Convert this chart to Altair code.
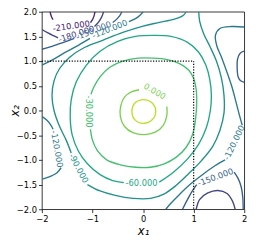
import altair as alt
import pandas as pd

LEVELS = [-210, -180, -150, -120, -90, -60, -30, 0, 30]
COLORS = ["#482475", "#414487", "#355f8d", "#2a788e", "#21918c",
          "#22a884", "#44bf70", "#7ad151", "#bddf26"]

XTICKS = [-2, -1, 0, 1, 2]
YTICKS = [-2.0, -1.5, -1.0, -0.5, 0.0, 0.5, 1.0, 1.5, 2.0]

# contour level 30 (closed ring)
C30_X = [0.25, 0.18, 0.01, -0.16, -0.22, -0.16, 0.01, 0.18]
C30_Y = [-0.02, 0.15, 0.22, 0.15, -0.02, -0.19, -0.26, -0.19]

# contour level 0
C0_X = [0.47, 0.47, 0.40, 0.24, 0.02, -0.20, -0.37, -0.45, -0.44, -0.36, -0.22, -0.08]
C0_Y = [0.08, -0.10, -0.30, -0.44, -0.49, -0.45, -0.32, -0.12, 0.10, 0.28, 0.38, 0.42]

# contour level -30
CM30_X = [-1.04, -1.0, -0.9, -0.72, -0.45, -0.15, 0.15, 0.42, 0.65, 0.85, 0.98, 1.04, 1.06,
          1.05, 1.0, 0.9, 0.72, 0.48, 0.2, -0.1, -0.4, -0.65, -0.85, -0.97, -1.03]
CM30_Y = [-0.38, -0.6, -0.82, -1.0, -1.1, -1.15, -1.15, -1.08, -0.95, -0.75, -0.48, -0.15, 0.15,
          0.42, 0.65, 0.82, 0.95, 1.03, 1.06, 1.06, 1.0, 0.88, 0.68, 0.48, 0.33]

# contour level -60
CM60_X = [0.32, 0.6, 0.88, 1.1, 1.25, 1.33, 1.35, 1.32, 1.24, 1.1, 0.88, 0.55, 0.2, -0.15, -0.5,
          -0.85, -1.12, -1.32, -1.42, -1.44, -1.4, -1.28, -1.1, -0.85, -0.6, -0.38]
CM60_Y = [-1.45, -1.25, -0.98, -0.68, -0.35, 0.0, 0.3, 0.62, 0.92, 1.18, 1.38, 1.5, 1.52, 1.5, 1.4,
          1.2, 0.92, 0.58, 0.22, -0.15, -0.5, -0.82, -1.08, -1.3, -1.42, -1.46]

# contour level -90
CM90A_X = [0.85, 0.8, 0.62, 0.3, 0.0, -0.4, -0.8, -1.15, -1.45, -1.65, -1.76, -1.8, -1.76, -1.66, -1.52, -1.42]
CM90A_Y = [2.0, 1.93, 1.85, 1.78, 1.71, 1.58, 1.42, 1.28, 1.08, 0.85, 0.6, 0.3, 0.0, -0.3, -0.6, -0.86]
CM90B_X = [-1.1, -0.85, -0.55, -0.2, 0.15, 0.4, 0.65, 0.9, 1.15, 1.38, 1.52, 1.6, 1.6, 1.55,
           1.45, 1.32, 1.2, 1.12, 1.1]
CM90B_Y = [-1.5, -1.63, -1.72, -1.78, -1.78, -1.7, -1.52, -1.28, -1.02, -0.72, -0.4, -0.05, 0.3, 0.65,
           1.0, 1.3, 1.55, 1.8, 2.0]

# contour level -120
CM120A_X = [-2.0, -1.8, -1.55, -1.28, -1.05]
CM120A_Y = [0.92, 1.02, 1.17, 1.32, 1.46]
CM120B_X = [-0.28, -0.15, -0.06, 0.0]
CM120B_Y = [1.8, 1.86, 1.93, 2.0]
CM120C_X = [2.0, 1.75, 1.52, 1.43, 1.46, 1.55, 1.65, 1.75, 1.83, 1.9, 1.96]
CM120C_Y = [1.69, 1.7, 1.66, 1.52, 1.3, 1.08, 0.8, 0.5, 0.2, -0.08, -0.3]
CM120D_X = [1.62, 1.42, 1.2, 0.95, 0.72, 0.55, 0.45]
CM120D_Y = [-1.0, -1.12, -1.28, -1.48, -1.7, -1.88, -2.0]
CM120E_X = [-2.0, -1.9, -1.82, -1.78]
CM120E_Y = [-0.12, -0.2, -0.3, -0.38]
CM120F_X = [-1.62, -1.7, -1.8, -1.9, -2.0]
CM120F_Y = [-1.16, -1.26, -1.32, -1.36, -1.39]

# contour level -150
CM150A_X = [-2.0, -1.8, -1.6, -1.36]
CM150A_Y = [1.24, 1.3, 1.37, 1.46]
CM150B_X = [-0.6, -0.52, -0.46, -0.42]
CM150B_Y = [1.78, 1.85, 1.92, 2.0]
CM150C_X = [0.78, 0.88, 0.98, 1.06]
CM150C_Y = [-2.0, -1.8, -1.62, -1.5]
CM150D_X = [1.8, 1.88, 1.94, 1.97, 1.98]
CM150D_Y = [-1.25, -1.38, -1.55, -1.75, -2.0]
CM150E_X = [2.0, 1.92, 1.87, 1.86, 1.88, 1.93, 2.0]
CM150E_Y = [1.2, 1.16, 1.05, 0.85, 0.68, 0.6, 0.57]

# contour level -180
CM180A_X = [-2.0, -1.88, -1.76, -1.68]
CM180A_Y = [1.64, 1.57, 1.51, 1.47]
CM180B_X = [-0.96, -0.88, -0.82, -0.78]
CM180B_Y = [1.7, 1.79, 1.89, 2.0]
CM180C_X = [1.05, 1.12, 1.28, 1.48, 1.66, 1.77, 1.82]
CM180C_Y = [-2.0, -1.8, -1.67, -1.62, -1.68, -1.84, -2.0]

# contour level -210
CM210A_X = [-1.84, -1.81, -1.78]
CM210A_Y = [2.0, 1.9, 1.84]
CM210B_X = [-1.04, -1.0, -0.97, -0.95]
CM210B_Y = [1.78, 1.84, 1.91, 2.0]

# inline contour labels
LABEL_TEXT = ["-210.000", "-180.000", "-150.000", "-120.000", "-120.000", "-120.000",
              "-90.000", "-60.000", "-30.000", "0.000", "-150.000"]
LABEL_LEVEL = [-210, -180, -150, -120, -120, -120, -90, -60, -30, 0, -150]
LABEL_X = [-1.42, -1.32, -0.98, -0.66, 1.80, -1.70, -1.27, -0.03, -1.07, 0.23, 1.43]
LABEL_Y = [1.71, 1.55, 1.62, 1.65, -0.65, -0.78, -1.17, -1.47, -0.02, 0.39, -1.35]
LABEL_ANGLE = [352, 342, 338, 338, 296, 80, 62, 0, 90, 30, 340]

# dotted guide to (1, 1)
DOT_X = [-2, 1, 1]
DOT_Y = [1, 1, -2]

SEGMENTS = [
    (0, C0_X, C0_Y), (-30, CM30_X, CM30_Y), (-60, CM60_X, CM60_Y),
    (-90, CM90A_X, CM90A_Y), (-90, CM90B_X, CM90B_Y),
    (-120, CM120A_X, CM120A_Y), (-120, CM120B_X, CM120B_Y), (-120, CM120C_X, CM120C_Y),
    (-120, CM120D_X, CM120D_Y), (-120, CM120E_X, CM120E_Y), (-120, CM120F_X, CM120F_Y),
    (-150, CM150A_X, CM150A_Y), (-150, CM150B_X, CM150B_Y), (-150, CM150C_X, CM150C_Y),
    (-150, CM150D_X, CM150D_Y), (-150, CM150E_X, CM150E_Y),
    (-180, CM180A_X, CM180A_Y), (-180, CM180B_X, CM180B_Y), (-180, CM180C_X, CM180C_Y),
    (-210, CM210A_X, CM210A_Y), (-210, CM210B_X, CM210B_Y),
]

rows = []
for sid, (lev, xs_, ys_) in enumerate(SEGMENTS):
    for i, (xv, yv) in enumerate(zip(xs_, ys_)):
        rows.append({"seg": sid, "level": str(lev), "i": i, "x": xv, "y": yv})
lines_df = pd.DataFrame(rows)

ring_df = pd.DataFrame({"x": C30_X, "y": C30_Y, "i": list(range(len(C30_X))),
                        "level": ["30"] * len(C30_X)})
dot_df = pd.DataFrame({"x": DOT_X, "y": DOT_Y, "i": [0, 1, 2]})
lab_df = pd.DataFrame({"text": LABEL_TEXT, "level": [str(v) for v in LABEL_LEVEL],
                       "x": LABEL_X, "y": LABEL_Y, "angle": LABEL_ANGLE})

FONT = "DejaVu Sans"
FS = 8.6
xscale = alt.Scale(domain=[-2, 2], nice=False, zero=False)
yscale = alt.Scale(domain=[-2, 2], nice=False, zero=False)
xaxis = alt.Axis(values=XTICKS, format="d", title="x₁", grid=False, domain=False,
                 tickSize=3.5, tickWidth=0.8, tickColor="black",
                 labelFont=FONT, labelFontSize=FS, labelColor="black", labelPadding=2,
                 labelFlush=False, titleFont=FONT, titleFontSize=12, titleFontStyle="italic",
                 titleFontWeight="normal", titleColor="black",
                 titleX=104.5, titleY=22, titleAlign="center", titleBaseline="middle")
yaxis = alt.Axis(values=YTICKS, format=".1f", title="x₂", grid=False, domain=False,
                 tickSize=3.5, tickWidth=0.8, tickColor="black",
                 labelFont=FONT, labelFontSize=FS, labelColor="black", labelPadding=2,
                 labelFlush=False, titleFont=FONT, titleFontSize=12, titleFontStyle="italic",
                 titleFontWeight="normal", titleColor="black",
                 titleAngle=270, titleX=-28, titleY=102, titleAlign="center", titleBaseline="middle")

X = alt.X("x:Q", scale=xscale, axis=xaxis)
Y = alt.Y("y:Q", scale=yscale, axis=yaxis)
colscale = alt.Scale(domain=[str(v) for v in LEVELS], range=COLORS)

LW = 1.4
lines = alt.Chart(lines_df).mark_line(interpolate="catmull-rom", strokeWidth=LW, clip=True).encode(
    x=X, y=Y, color=alt.Color("level:N", scale=colscale, legend=None),
    detail="seg:N", order=alt.Order("i:Q"))

ring = alt.Chart(ring_df).mark_line(interpolate="cardinal-closed", strokeWidth=LW, clip=True).encode(
    x=X, y=Y, color=alt.Color("level:N", scale=colscale, legend=None), order=alt.Order("i:Q"))

dots = alt.Chart(dot_df).mark_line(color="black", strokeWidth=1.2, strokeDash=[1.2, 1.6], clip=True).encode(
    x=X, y=Y, order=alt.Order("i:Q"))

labels = alt.Chart(lab_df).mark_text(font=FONT, fontSize=FS, align="center", baseline="middle").encode(
    x=X, y=Y, text="text:N", angle=alt.Angle("angle:Q", scale=None),
    color=alt.Color("level:N", scale=colscale, legend=None))

chart = alt.layer(lines, ring, dots, labels).properties(
    width=209, height=204,
    autosize=alt.AutoSizeParams(type="none"),
    padding={"left": 35, "top": 0, "right": 8, "bottom": 30},
).configure_view(stroke="black", strokeWidth=0.8)

chart.save("out.html", embed_options={"renderer": "svg", "actions": False})
